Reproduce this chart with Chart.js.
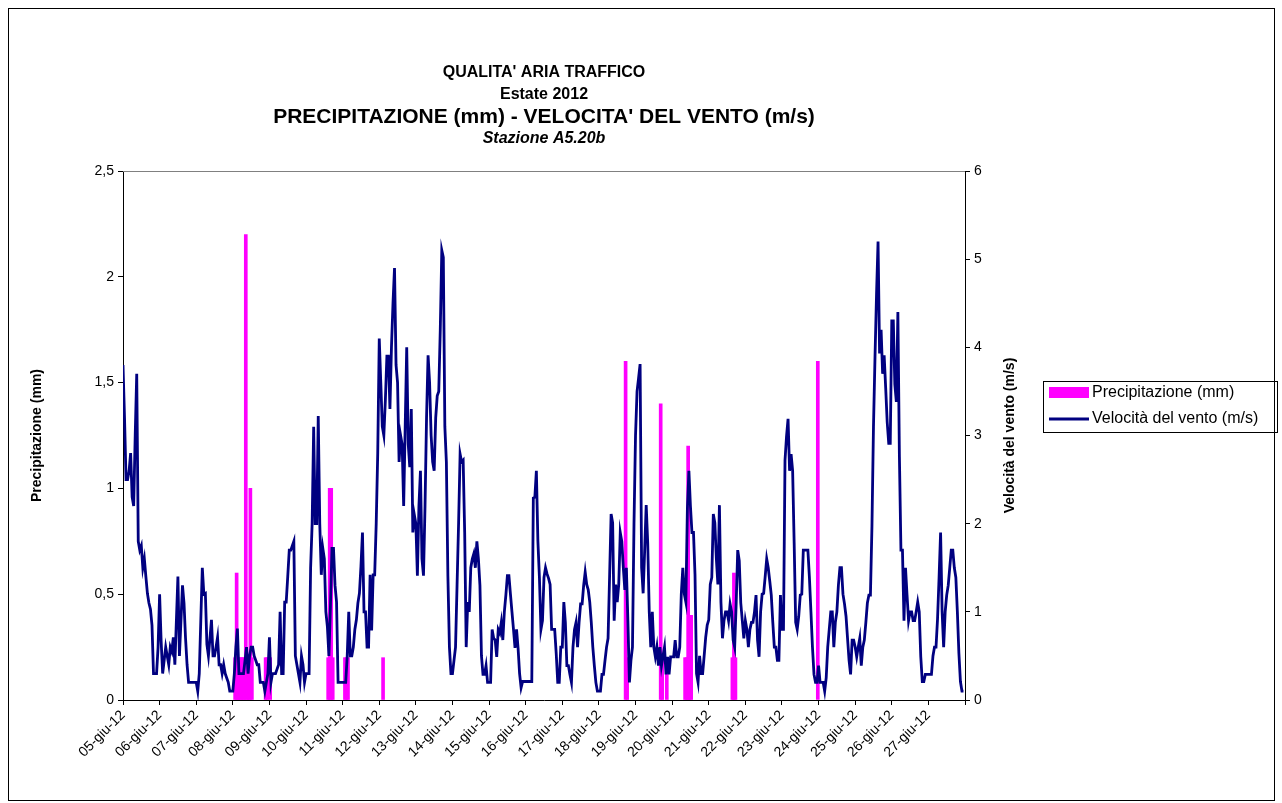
<!DOCTYPE html>
<html><head><meta charset="utf-8">
<script src="https://cdn.jsdelivr.net/npm/chart.js@4.4.1/dist/chart.umd.min.js"></script>
<style>html,body{margin:0;padding:0;background:#fff;}#wrap{width:1282px;height:803px;position:relative;}</style>
</head><body><div id="wrap"><canvas id="c" width="1282" height="803"></canvas></div>
<script>
const dayLabels = ['05-giu-12','06-giu-12','07-giu-12','08-giu-12','09-giu-12','10-giu-12','11-giu-12','12-giu-12','13-giu-12','14-giu-12','15-giu-12','16-giu-12','17-giu-12','18-giu-12','19-giu-12','20-giu-12','21-giu-12','22-giu-12','23-giu-12','24-giu-12','25-giu-12','26-giu-12','27-giu-12'];
const hoursPerDay = 24;
// hourly wind speed (m/s), one row per day
const windSpeed = [
 3.8,3.2,2.5,2.5,2.6,2.8,2.3,2.2,3.0,3.7,1.8,1.7,1.75,1.5,1.6,1.4,1.21,1.1,1.03,0.85,0.3,0.3,0.3,0.6,
 1.2,0.67,0.3,0.45,0.6,0.5,0.4,0.6,0.55,0.71,0.4,0.9,1.4,0.5,0.9,1.3,1.1,0.7,0.4,0.2,0.2,0.2,0.2,0.2,
 0.2,0.1,0.3,0.9,1.5,1.2,1.21,0.63,0.5,0.7,0.91,0.5,0.5,0.6,0.71,0.4,0.4,0.3,0.4,0.3,0.25,0.2,0.1,0.1,
 0.1,0.3,0.6,0.81,0.3,0.3,0.3,0.3,0.45,0.6,0.3,0.5,0.6,0.6,0.5,0.45,0.4,0.4,0.2,0.2,0.2,0.1,0.2,0.3,
 0.71,0.2,0.3,0.3,0.3,0.35,0.4,1.0,0.3,0.3,1.11,1.11,1.4,1.7,1.7,1.75,1.8,0.5,0.4,0.3,0.2,0.5,0.4,0.2,
 0.3,0.3,0.3,1.5,2.0,3.1,2.0,2.0,3.22,2.0,1.42,1.72,1.6,1.0,0.83,0.5,1.07,1.72,1.72,1.3,1.11,0.2,0.2,0.2,
 0.2,0.2,0.2,0.5,1.0,0.5,0.5,0.6,0.8,0.91,1.1,1.21,1.52,1.9,1.0,1.0,0.6,0.6,1.42,0.79,1.42,1.42,2.0,2.8,
 4.1,3.6,3.1,3.0,3.4,3.9,3.9,3.3,4.0,4.5,4.9,3.8,3.6,2.7,3.0,2.9,2.2,3.1,4.0,2.9,2.64,3.3,1.9,2.1,
 2.0,1.41,2.2,2.6,1.6,1.41,2.2,3.2,3.91,3.6,3.0,2.7,2.6,3.2,3.45,3.5,4.2,5.1,5.02,3.1,2.7,1.4,0.6,0.3,
 0.3,0.45,0.6,1.3,2.0,2.79,2.7,2.72,1.9,0.6,1.11,1.0,1.5,1.6,1.66,1.5,1.8,1.6,1.3,0.5,0.29,0.29,0.39,0.2,
 0.2,0.2,0.8,0.7,0.68,0.49,0.8,0.76,0.88,0.68,1.0,1.19,1.41,1.41,1.2,1.0,0.8,0.59,0.8,0.59,0.3,0.14,0.21,0.21,
 0.21,0.21,0.21,0.21,0.21,2.29,2.3,2.6,1.8,1.39,0.8,0.9,1.39,1.5,1.43,1.38,1.31,0.8,0.8,0.8,0.53,0.2,0.2,0.6,
 0.6,1.11,0.88,0.39,0.39,0.29,0.2,0.6,0.8,0.88,0.6,0.88,1.09,1.09,1.3,1.45,1.31,1.25,1.11,0.88,0.6,0.39,0.2,0.1,
 0.1,0.1,0.29,0.29,0.45,0.6,0.7,1.4,2.11,2.01,0.9,1.31,1.11,1.31,1.9,1.8,1.5,1.25,1.5,0.9,0.2,0.45,0.6,2.0,
 3.0,3.5,3.65,3.81,1.5,1.21,1.7,2.21,1.78,1.0,0.6,1.0,0.6,0.49,0.6,0.39,0.6,0.39,0.5,0.6,0.29,0.49,0.29,0.49,
 0.49,0.49,0.68,0.49,0.49,0.6,1.2,1.5,1.2,1.11,2.17,2.6,2.2,1.9,1.9,1.42,0.3,0.2,0.5,0.3,0.3,0.5,0.71,0.85,
 0.91,1.31,1.39,2.11,2.01,1.6,1.31,2.21,1.11,0.7,0.9,1.0,1.0,0.9,1.09,1.0,0.68,0.6,1.1,1.7,1.58,1.1,0.9,0.7,
 0.9,0.8,0.6,0.8,0.88,0.88,1.0,1.19,0.68,0.49,1.0,1.2,1.21,1.4,1.6,1.5,1.35,1.19,0.88,0.6,0.6,0.45,0.45,1.19,
 0.8,0.8,2.72,2.99,3.19,2.6,2.79,2.6,1.78,0.88,0.8,0.95,1.19,1.2,1.7,1.7,1.7,1.7,1.39,1.0,0.6,0.29,0.2,0.2,
 0.39,0.2,0.2,0.2,0.1,0.25,0.6,0.8,1.0,1.0,0.6,0.88,1.0,1.3,1.5,1.5,1.2,1.09,0.95,0.7,0.45,0.29,0.68,0.68,
 0.6,0.49,0.6,0.7,0.39,0.6,0.68,0.88,1.1,1.19,1.19,1.97,3.1,3.89,4.6,5.2,3.93,4.2,3.7,3.91,3.54,3.15,2.91,2.91,
 4.3,4.3,3.58,3.38,4.4,2.76,1.7,1.7,0.9,1.5,1.19,0.9,1.0,1.0,0.9,0.9,1.0,1.11,1.0,0.49,0.21,0.21,0.29,0.29,
 0.29,0.29,0.29,0.5,0.6,0.6,0.92,1.39,1.9,1.0,0.6,1.0,1.19,1.3,1.5,1.7,1.7,1.5,1.39,1.0,0.53,0.21,0.1,0.1
];
// hours (index from 05-giu 00:00) with rain, and amount (mm)
const precipHours  = [73,74,75,76,77,78,79,80,81,82,83,84, 93,94,96, 134,135,136,137, 145,146,147, 170, 329,330, 352,353,356, 368,369,370,371,372, 399,400,401, 455];
const precipValues = [0.2,0.6,0.2,0.2,0.2,0.2,0.2,2.2,0.2,0.2,1.0,0.2, 0.2,0.2,0.2, 0.2,1.0,1.0,0.2, 0.2,0.2,0.2, 0.2, 1.6,0.2, 1.4,0.2,0.2, 0.2,0.2,1.2,0.4,0.4, 0.2,0.6,0.2, 1.6];
const leftTicks = [0,0.5,1,1.5,2,2.5];
const rightTicks = [0,1,2,3,4,5,6];
const titleLines = ["QUALITA' ARIA TRAFFICO","Estate 2012","PRECIPITAZIONE (mm) - VELOCITA' DEL VENTO (m/s)","Stazione A5.20b"];
const seriesNames = ['Precipitazione (mm)','Velocità del vento (m/s)'];
const axisTitles = ['Precipitazione (mm)','Velocità del vento (m/s)'];

const FONT = "'Liberation Sans', Arial, sans-serif";
const totalHours = dayLabels.length * hoursPerDay;
const xTickValues = dayLabels.map((d,i)=>i*hoursPerDay).concat([totalHours]);

const windPoints = windSpeed.map((v,i)=>({x:i, y:v}));
const rainPoints = precipHours.map((h,i)=>({x:h+0.5, y:precipValues[i]}));

const decor = {
  id:'decor',
  beforeDraw(chart){
    const c=chart.ctx; c.save(); c.fillStyle='#fff'; c.fillRect(0,0,chart.width,chart.height); c.restore();
  },
  beforeDatasetsDraw(chart){
    const c=chart.ctx, a=chart.chartArea; c.save();
    c.strokeStyle='#808080'; c.lineWidth=1; c.beginPath();
    c.moveTo(a.left, Math.round(a.top)+0.5); c.lineTo(a.right, Math.round(a.top)+0.5); c.stroke();
    c.restore();
  },
  afterDraw(chart){
    const c=chart.ctx, a=chart.chartArea; c.save();
    const cx=(a.left+a.right)/2;
    c.fillStyle='#000'; c.textAlign='center'; c.textBaseline='middle';
    const fonts=['bold 16px '+FONT,'bold 16px '+FONT,'bold 21px '+FONT,'italic bold 16px '+FONT];
    const ys=[73,95,117,139];
    titleLines.forEach((t,i)=>{c.font=fonts[i]; c.fillText(t,cx,ys[i]);});
    // right axis title
    c.save(); c.translate(1010,(a.top+a.bottom)/2); c.rotate(-Math.PI/2);
    c.font='bold 14px '+FONT; c.fillText(axisTitles[1],0,0); c.restore();
    // legend
    c.strokeStyle='#000'; c.lineWidth=1; c.strokeRect(1043.5,381.5,234,51);
    c.fillStyle='#FF00FF'; c.fillRect(1049,387,40,11);
    c.strokeStyle='#000080'; c.lineWidth=2.8; c.beginPath(); c.moveTo(1049,419); c.lineTo(1089,419); c.stroke();
    c.fillStyle='#000'; c.textAlign='left'; c.font='16px '+FONT;
    c.fillText(seriesNames[0],1092,393); c.fillText(seriesNames[1],1092,419);
    // frame
    c.strokeStyle='#000'; c.lineWidth=1; c.strokeRect(8.5,8.5,1266,792);
    c.restore();
  }
};

new Chart(document.getElementById('c'), {
  type:'bar',
  data:{datasets:[
    {type:'line', label:seriesNames[1], data:windPoints, xAxisID:'x', yAxisID:'y2', borderColor:'#000080', backgroundColor:'#000080', borderWidth:2.8, pointRadius:0, tension:0, order:0},
    {type:'bar', label:seriesNames[0], data:rainPoints, xAxisID:'x', yAxisID:'y', backgroundColor:'#FF00FF', borderWidth:0, barThickness:3, order:1}
  ]},
  options:{
    responsive:false, animation:false, events:[],
    layout:{padding:{left:25,right:257,top:171,bottom:8}},
    plugins:{legend:{display:false}, title:{display:false}, tooltip:{enabled:false}},
    scales:{
      x:{type:'linear', min:0, max:totalHours, offset:false,
        afterBuildTicks:s=>{s.ticks=xTickValues.map(v=>({value:v}));},
        afterFit:s=>{s.height=95;},
        ticks:{autoSkip:false, minRotation:45, maxRotation:45, color:'#000', font:{family:FONT,size:14}, padding:2,
          callback:(v,i)=>dayLabels[i]!==undefined?dayLabels[i]:''},
        grid:{display:true, drawOnChartArea:false, drawTicks:true, tickLength:5, color:'#000', offset:false},
        border:{display:true, color:'#000', width:1}},
      y:{type:'linear', position:'left', min:0, max:2.5,
        afterBuildTicks:s=>{s.ticks=leftTicks.map(v=>({value:v}));},
        afterFit:s=>{s.width=98;},
        ticks:{color:'#000', font:{family:FONT,size:14}, padding:4, callback:v=>String(v).replace('.',',')},
        title:{display:true, text:axisTitles[0], color:'#000', font:{family:FONT,size:14,weight:'bold'}},
        grid:{display:true, drawOnChartArea:false, drawTicks:true, tickLength:5, color:'#000'},
        border:{display:true, color:'#000', width:1}},
      y2:{type:'linear', position:'right', min:0, max:6,
        afterBuildTicks:s=>{s.ticks=rightTicks.map(v=>({value:v}));},
        afterFit:s=>{s.width=60;},
        ticks:{color:'#000', font:{family:FONT,size:14}, padding:4},
        grid:{display:true, drawOnChartArea:false, drawTicks:true, tickLength:5, color:'#000'},
        border:{display:true, color:'#000', width:1}}
    }
  },
  plugins:[decor]
});
</script></body></html>
